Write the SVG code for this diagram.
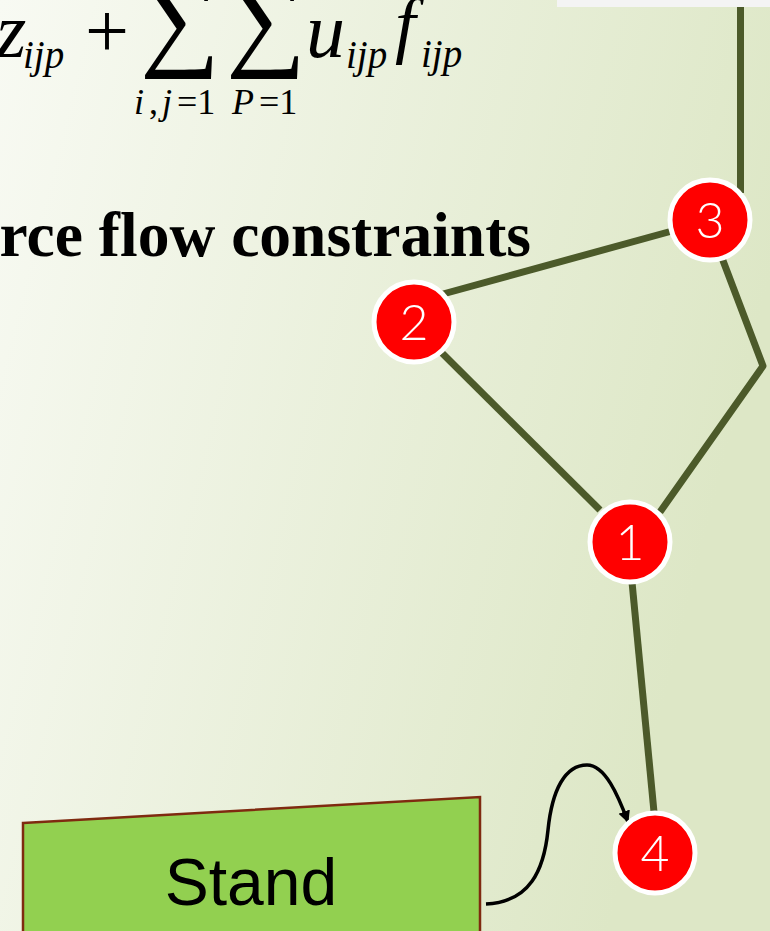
<svg xmlns="http://www.w3.org/2000/svg" width="770" height="931" viewBox="0 0 770 931">
<defs>
<linearGradient id="bg" x1="0" y1="0" x2="1" y2="0.3">
<stop offset="0" stop-color="#f8faf3"/>
<stop offset="1" stop-color="#dde7c6"/>
</linearGradient>
<marker id="ah" viewBox="0 0 12 14" refX="11" refY="7" markerWidth="12" markerHeight="14" orient="auto" markerUnits="userSpaceOnUse">
<path d="M0,1 L12,7 L0,13 z" fill="#000"/>
</marker>
<style>
.m{font-family:"Liberation Serif","Times New Roman",serif;font-style:italic;fill:#000}
.r{font-family:"Liberation Serif","Times New Roman",serif;fill:#000}
.e{stroke:#4c5a2a;stroke-width:7;fill:none;stroke-linecap:butt}
.n circle{fill:#ff0000;stroke:#fff;stroke-width:5}
.n text{font-family:"Lato","Liberation Sans",sans-serif;font-weight:300;font-size:50px;fill:#fff;text-anchor:middle}
</style>
</defs>
<rect width="770" height="931" fill="url(#bg)"/>
<rect x="557" y="0" width="213" height="7" fill="#f4f4f4"/>

<g id="formula">
<text class="m" x="-4" y="57" font-size="78">z</text>
<text class="m" x="23" y="68" font-size="39">ijp</text>
<text class="r" x="85" y="57" font-size="78">+</text>
<text class="r" x="140" y="55" font-size="112">∑</text>
<text class="r" x="226" y="55" font-size="112">∑</text>
<text class="m" x="306" y="57" font-size="78">u</text>
<text class="m" x="346" y="68" font-size="39">ijp</text>
<text class="m" x="395" y="49" font-size="74">f</text>
<text class="m" x="421" y="67" font-size="39">ijp</text>
<text y="114" font-size="36" class="r"><tspan x="134" font-style="italic">i</tspan><tspan x="149">,</tspan><tspan x="162" font-style="italic">j</tspan><tspan x="177">=1</tspan></text>
<text y="114" font-size="36" class="r"><tspan x="232" font-style="italic">P</tspan><tspan x="259">=1</tspan></text>
</g>

<g id="title">
<text x="531" y="256" font-size="63.5" font-weight="bold" text-anchor="end" class="r">rce flow constraints</text>
</g>

<g id="connectors">
<line class="e" x1="740.5" y1="7" x2="740.5" y2="193"/>
<line class="e" x1="672" y1="231" x2="443" y2="294"/>
<line class="e" x1="442" y1="353" x2="600" y2="510"/>
<polyline class="e" points="722,258 763,366 660,512" stroke-linejoin="round"/>
<line class="e" x1="632" y1="582" x2="654" y2="812"/>
<path d="M486,904 C530,902 544,870 548,830 C552,790 565,765 587,765 C605,765 618,795 628,822" fill="none" stroke="#000" stroke-width="3.5" marker-end="url(#ah)"/>
</g>

<g id="node-stand">
<path d="M23,823 L480,797 L480,940 L23,940 Z" fill="#92d050" stroke="#7f2a10" stroke-width="2.5"/>
<text x="251" y="905" font-family="Liberation Sans, Arial, sans-serif" font-size="66" text-anchor="middle" fill="#000">Stand</text>
</g>

<g id="node-3" class="n"><circle cx="710" cy="220" r="40"/><text x="710" y="238">3</text></g>
<g id="node-2" class="n"><circle cx="414" cy="322" r="40"/><text x="414" y="340">2</text></g>
<g id="node-1" class="n"><circle cx="630" cy="542" r="40"/><text x="630" y="560">1</text></g>
<g id="node-4" class="n"><circle cx="655" cy="853" r="40"/><text x="655" y="871">4</text></g>
</svg>
